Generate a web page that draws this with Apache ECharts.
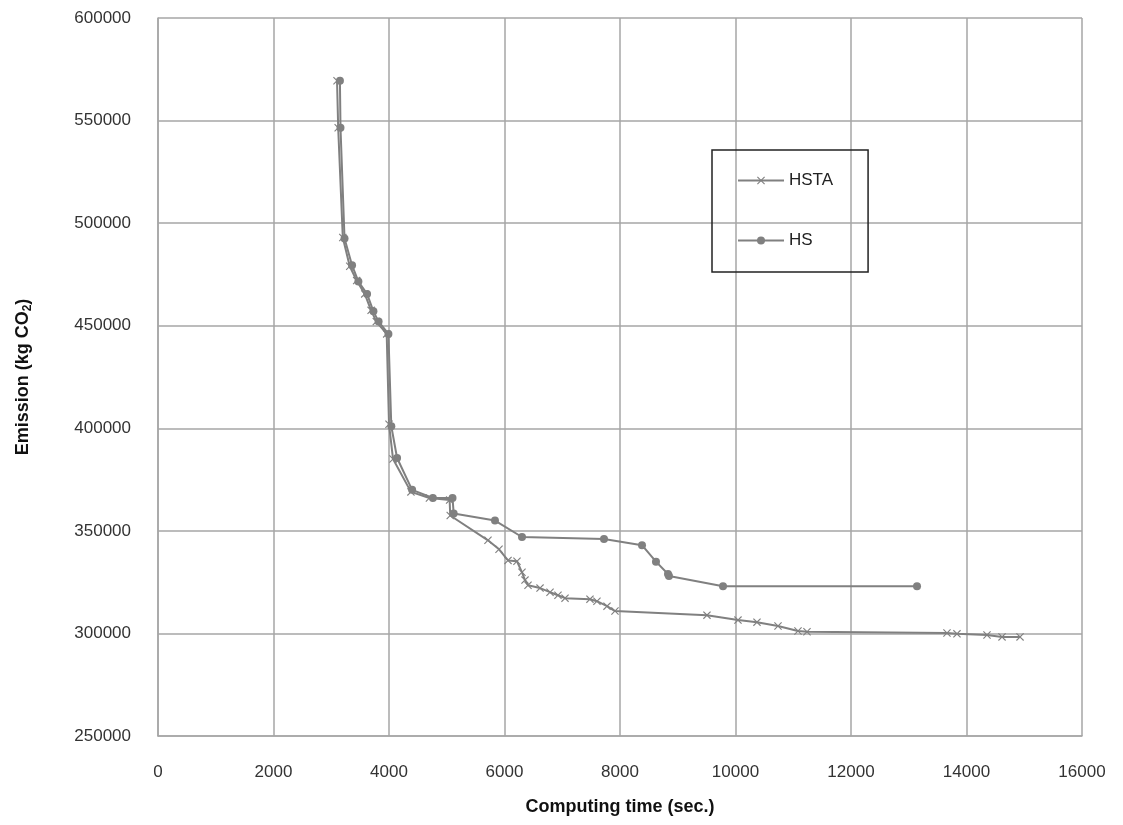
<!DOCTYPE html>
<html>
<head>
<meta charset="utf-8">
<script src="https://cdn.jsdelivr.net/npm/echarts@6/dist/echarts.min.js"></script>
<style>
  html, body { margin: 0; padding: 0; background: #fff; }
  #chart { width: 1123px; height: 825px; }
</style>
</head>
<body>
<div id="chart"></div>
<script>
// HSTA: [time, emission]
const hstaTime = [3100, 3120, 3200, 3320, 3440, 3580, 3690, 3780, 3960, 4000, 4070, 4380, 4700, 5050, 5060,
  5714, 5905, 6061, 6216, 6303, 6355, 6407, 6615, 6788, 6926, 7048, 7480, 7601, 7775, 7913,
  9506, 10043, 10372, 10736, 11082, 11238, 13662, 13835, 14355, 14615, 14927];
const hstaEmission = [569400, 546500, 493000, 479000, 472000, 465500, 457500, 452000, 446000, 402000, 385000, 369000, 366000, 365000, 357500,
  345400, 341000, 335600, 335200, 329800, 326000, 323500, 322100, 320100, 318600, 317200, 316700, 315700, 313300, 310900,
  308900, 306500, 305500, 303600, 301200, 300800, 300200, 299800, 299200, 298300, 298300];

// HS: [time, emission]
const hsTime = [3150, 3160, 3230, 3360, 3470, 3620, 3730, 3820, 3990, 4040, 4140, 4400, 4760, 5100, 5120,
  5835, 6303, 7723, 8381, 8623, 8831, 8848, 9784, 13143];
const hsEmission = [569400, 546500, 492500, 479500, 471500, 465500, 457000, 452000, 446000, 401000, 385500, 370000, 366000, 366000, 358500,
  355000, 347000, 346000, 343000, 335000, 329000, 328000, 323000, 323000];

const xTicks = [0, 2000, 4000, 6000, 8000, 10000, 12000, 14000, 16000];
const yTicks = [250000, 300000, 350000, 400000, 450000, 500000, 550000, 600000];

const lineColor = "#808080";
const gridColor = "#a6a6a6";
const crossPath = "path://M0,1L1,0L5,4L9,0L10,1L6,5L10,9L9,10L5,6L1,10L0,9L4,5Z";

const zip = (a, b) => a.map((v, i) => [v, b[i]]);

const chart = echarts.init(document.getElementById("chart"));
const option = {
  animation: false,
  backgroundColor: "#fff",
  grid: { left: 158, right: 41, top: 18, bottom: 89 },
  legend: {
    orient: "vertical",
    left: 712,
    top: 150,
    padding: [22, 35, 23, 25],
    itemGap: 43,
    itemWidth: 46,
    itemHeight: 10,
    borderColor: "#222",
    borderWidth: 1.5,
    textStyle: { fontFamily: "Liberation Sans", fontSize: 17, color: "#222" },
    data: ["HSTA", "HS"]
  },
  xAxis: {
    type: "value",
    min: xTicks[0],
    max: xTicks[xTicks.length - 1],
    interval: 2000,
    name: "Computing time (sec.)",
    nameLocation: "middle",
    nameGap: 62,
    nameTextStyle: { fontFamily: "Liberation Sans", fontWeight: "bold", fontSize: 18, color: "#111" },
    axisLine: { lineStyle: { color: gridColor, width: 1.5 } },
    axisTick: { show: false },
    axisLabel: { margin: 28, fontFamily: "Liberation Sans", fontSize: 17, color: "#333", formatter: v => String(v) },
    splitLine: { lineStyle: { color: gridColor, width: 1.5 } }
  },
  yAxis: {
    type: "value",
    min: yTicks[0],
    max: yTicks[yTicks.length - 1],
    interval: 50000,
    name: "{n|Emission (kg CO}{s|2}{n|)}",
    nameLocation: "middle",
    nameGap: 124,
    nameTextStyle: {
      rich: {
        n: { fontFamily: "Liberation Sans", fontWeight: "bold", fontSize: 18, color: "#111" },
        s: { fontFamily: "Liberation Sans", fontWeight: "bold", fontSize: 12, color: "#111", verticalAlign: "bottom", padding: [10, 0, 0, 0] }
      }
    },
    axisLine: { show: true, lineStyle: { color: gridColor, width: 1.5 } },
    axisTick: { show: false },
    axisLabel: { margin: 27, fontFamily: "Liberation Sans", fontSize: 17, color: "#333", formatter: v => String(v) },
    splitLine: { lineStyle: { color: gridColor, width: 1.5 } }
  },
  series: [
    {
      name: "HSTA",
      type: "line",
      data: zip(hstaTime, hstaEmission),
      symbol: crossPath,
      symbolSize: 8,
      showAllSymbol: true,
      lineStyle: { color: lineColor, width: 2 },
      itemStyle: { color: lineColor }
    },
    {
      name: "HS",
      type: "line",
      data: zip(hsTime, hsEmission),
      symbol: "circle",
      symbolSize: 8,
      showAllSymbol: true,
      lineStyle: { color: lineColor, width: 2 },
      itemStyle: { color: lineColor }
    }
  ]
};
chart.setOption(option);
</script>
</body>
</html>
